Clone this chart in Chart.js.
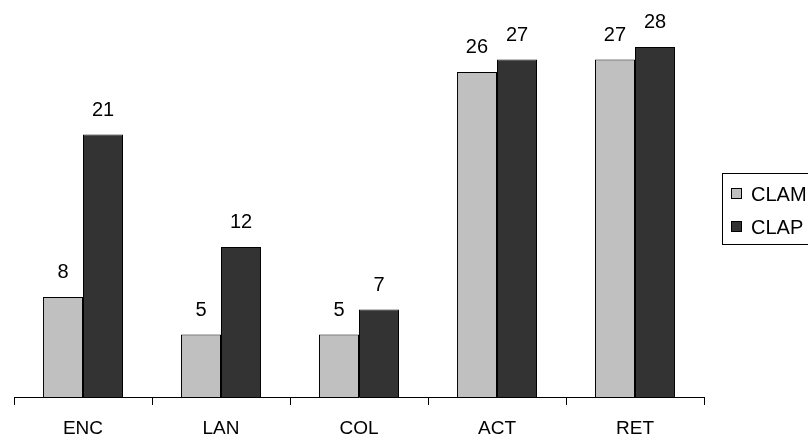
<!DOCTYPE html>
<html>
<head>
<meta charset="utf-8">
<script src="https://cdn.jsdelivr.net/npm/chart.js@4/dist/chart.umd.min.js"></script>
<style>
html,body{margin:0;padding:0;background:#fff;}
#wrap{width:808px;height:439px;position:relative;}
</style>
</head>
<body>
<div id="wrap"><canvas id="c" width="808" height="439"></canvas></div>
<script>
const categories = ["ENC", "LAN", "COL", "ACT", "RET"];
const seriesNames = ["CLAM", "CLAP"];
const clamValues = [8, 5, 5, 26, 27];
const clapValues = [21, 12, 7, 27, 28];
const seriesColors = ["#C0C0C0", "#333333"];

const FONT = '"Liberation Sans", Arial, sans-serif';

const valueLabels = {
  id: 'valueLabels',
  afterDatasetsDraw(chart) {
    const ctx = chart.ctx;
    ctx.save();
    ctx.font = '20px ' + FONT;
    ctx.fillStyle = '#000';
    ctx.textAlign = 'center';
    ctx.textBaseline = 'alphabetic';
    chart.data.datasets.forEach((ds, i) => {
      chart.getDatasetMeta(i).data.forEach((bar, j) => {
        ctx.fillText(String(ds.data[j]), bar.x, bar.y - 19);
      });
    });
    ctx.restore();
  }
};

const boxLegend = {
  id: 'boxLegend',
  afterDraw(chart) {
    const ctx = chart.ctx;
    ctx.save();
    ctx.strokeStyle = '#000';
    ctx.lineWidth = 1;
    ctx.strokeRect(722.5, 173.5, 200, 71);
    ctx.font = '20px ' + FONT;
    ctx.textBaseline = 'alphabetic';
    ctx.textAlign = 'left';
    chart.data.datasets.forEach((ds, i) => {
      const y = 188 + i * 33;
      ctx.fillStyle = ds.backgroundColor;
      ctx.fillRect(731.5, y + 0.5, 10, 10);
      ctx.strokeRect(731.5, y + 0.5, 10, 10);
      ctx.fillStyle = '#000';
      ctx.fillText(ds.label, 751, y + 12.5);
    });
    ctx.restore();
  }
};

new Chart(document.getElementById('c'), {
  type: 'bar',
  data: {
    labels: categories,
    datasets: [
      { label: seriesNames[0], data: clamValues, backgroundColor: seriesColors[0], borderColor: '#000', borderWidth: 1 },
      { label: seriesNames[1], data: clapValues, backgroundColor: seriesColors[1], borderColor: '#000', borderWidth: 1 }
    ]
  },
  options: {
    responsive: false,
    animation: false,
    layout: { padding: { left: 14, right: 104, top: 22, bottom: 0 } },
    datasets: { bar: { categoryPercentage: 0.58, barPercentage: 1.0 } },
    plugins: { legend: { display: false }, tooltip: { enabled: false } },
    scales: {
      x: {
        offset: true,
        grid: { display: true, drawOnChartArea: false, drawTicks: true, tickLength: 8, color: '#000', offset: true },
        border: { display: true, color: '#000', width: 1 },
        ticks: { color: '#000', font: { family: FONT, size: 19 }, padding: 12, maxRotation: 0 },
        afterFit(scale) { scale.height = 42; }
      },
      y: {
        display: false,
        min: 0,
        max: 30
      }
    }
  },
  plugins: [valueLabels, boxLegend]
});
</script>
</body>
</html>
